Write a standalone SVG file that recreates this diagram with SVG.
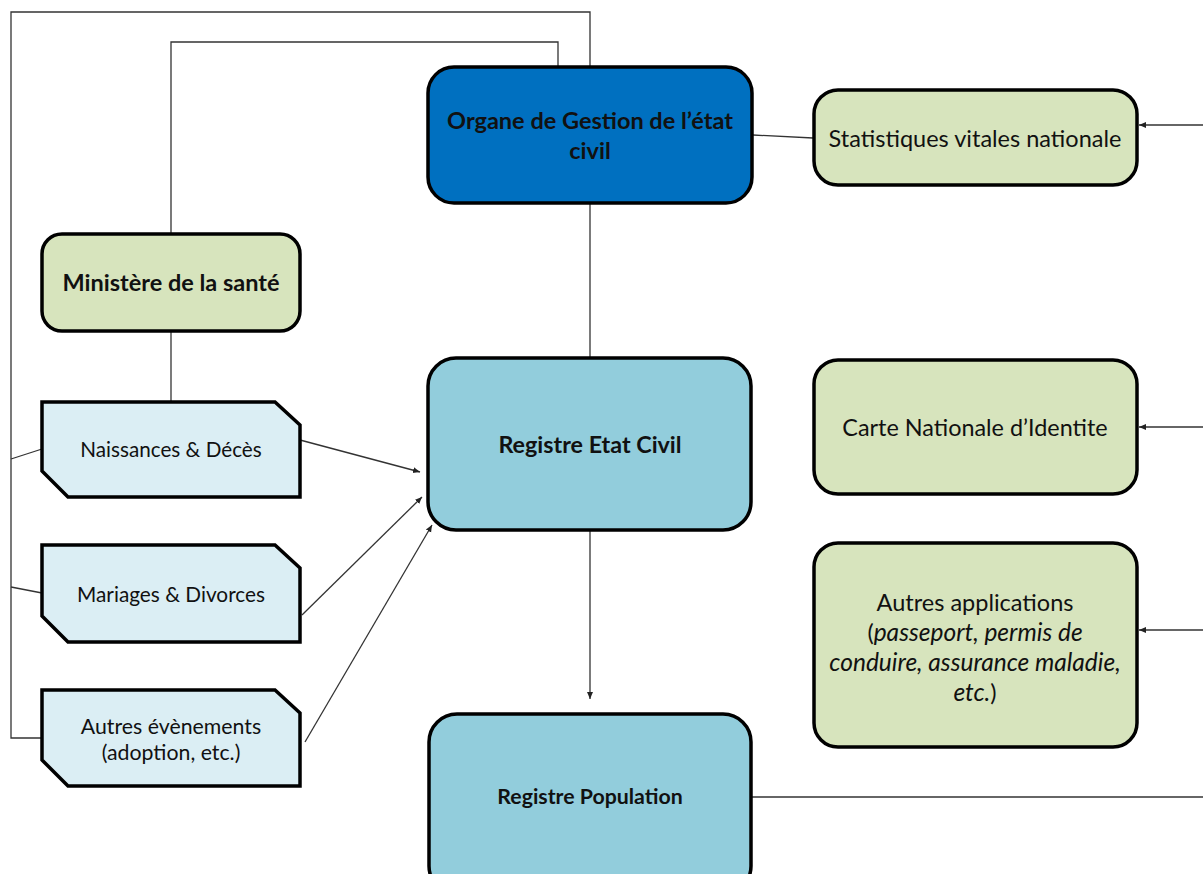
<svg xmlns="http://www.w3.org/2000/svg" width="1203" height="874" viewBox="0 0 1203 874">
<style>
.box{stroke:#000;stroke-width:3.5}
.green{fill:#d7e4bd}
.lb{fill:#dbeef4}
.teal{fill:#92cddc}
.con{fill:none;stroke:#333;stroke-width:1.3}
text{font-family:Lato,"Liberation Sans",sans-serif;fill:#111;text-anchor:middle}
.b{font-weight:bold}
</style>
<defs>
<marker id="ah" markerWidth="8" markerHeight="8" refX="7" refY="4" orient="auto" markerUnits="userSpaceOnUse">
<path d="M0,1 L7,4 L0,7 Z" fill="#222"/>
</marker>
</defs>
<rect width="1203" height="874" fill="#fff"/>
<g id="connectors">
<polyline class="con" points="42,738 11,738 11,12 590,12 590,66"/>
<line class="con" x1="11" y1="459" x2="42" y2="449"/>
<line class="con" x1="11" y1="587" x2="42" y2="593"/>
<polyline class="con" points="171,233 171,42 558,42 558,66"/>
<line class="con" x1="171" y1="331" x2="171" y2="401"/>
<line class="con" x1="590" y1="204" x2="590" y2="357"/>
<line class="con" x1="753" y1="135" x2="813" y2="138"/>
<line class="con" x1="300" y1="440" x2="420" y2="472" marker-end="url(#ah)"/>
<line class="con" x1="302" y1="615" x2="422" y2="497" marker-end="url(#ah)"/>
<line class="con" x1="305" y1="742" x2="432" y2="525" marker-end="url(#ah)"/>
<line class="con" x1="590" y1="531" x2="590" y2="699" marker-end="url(#ah)"/>
<line class="con" x1="1203" y1="125" x2="1139" y2="125" marker-end="url(#ah)"/>
<line class="con" x1="1203" y1="427" x2="1139" y2="427" marker-end="url(#ah)"/>
<line class="con" x1="1203" y1="630" x2="1139" y2="630" marker-end="url(#ah)"/>
<line class="con" x1="752" y1="797" x2="1203" y2="797"/>
</g>
<g id="organe">
<rect class="box" x="428" y="67" width="324" height="136" rx="26" fill="#0070c0"/>
<text class="b" x="590" y="129" font-size="23.5">Organe de Gestion de l’état</text>
<text class="b" x="590" y="159" font-size="23.5">civil</text>
</g>
<g id="ministere">
<rect class="box green" x="42" y="234" width="258" height="97" rx="20"/>
<text class="b" x="171" y="291" font-size="23.5">Ministère de la santé</text>
</g>
<g id="naissances">
<path class="box lb" d="M42,402 L275,402 L300,425 L300,497 L68,497 L42,471 Z"/>
<text x="171" y="457" font-size="20.7">Naissances &amp; Décès</text>
</g>
<g id="mariages">
<path class="box lb" d="M42,545 L275,545 L300,568 L300,642 L68,642 L42,616 Z"/>
<text x="171" y="602" font-size="20.8">Mariages &amp; Divorces</text>
</g>
<g id="autres-evenements">
<path class="box lb" d="M42,690 L275,690 L300,713 L300,786 L68,786 L42,760 Z"/>
<text x="171" y="734" font-size="21.3">Autres évènements</text>
<text x="171" y="760" font-size="21.3">(adoption, etc.)</text>
</g>
<g id="registre-etat-civil">
<rect class="box teal" x="428" y="358" width="323" height="172" rx="28"/>
<text class="b" x="590" y="453" font-size="23.3">Registre Etat Civil</text>
</g>
<g id="registre-population">
<rect class="box teal" x="429" y="714" width="322" height="180" rx="28"/>
<text class="b" x="590" y="804" font-size="21.3">Registre Population</text>
</g>
<g id="statistiques">
<rect class="box green" x="814" y="90" width="323" height="95" rx="24"/>
<text x="975" y="147" font-size="23.5">Statistiques vitales nationale</text>
</g>
<g id="carte">
<rect class="box green" x="814" y="360" width="323" height="134" rx="24"/>
<text x="975" y="436" font-size="23.4">Carte Nationale d’Identite</text>
</g>
<g id="autres-applications">
<rect class="box green" x="814" y="543" width="323" height="204" rx="24"/>
<text x="975" y="611" font-size="23.5">Autres applications</text>
<text x="975" y="641" font-size="23.5">(<tspan font-style="italic" font-size="24.5">passeport, permis de</tspan></text>
<text x="975" y="671" font-size="24.5" font-style="italic">conduire, assurance maladie,</text>
<text x="975" y="701" font-size="23.5"><tspan font-style="italic" font-size="24.5">etc.</tspan>)</text>
</g>
</svg>
